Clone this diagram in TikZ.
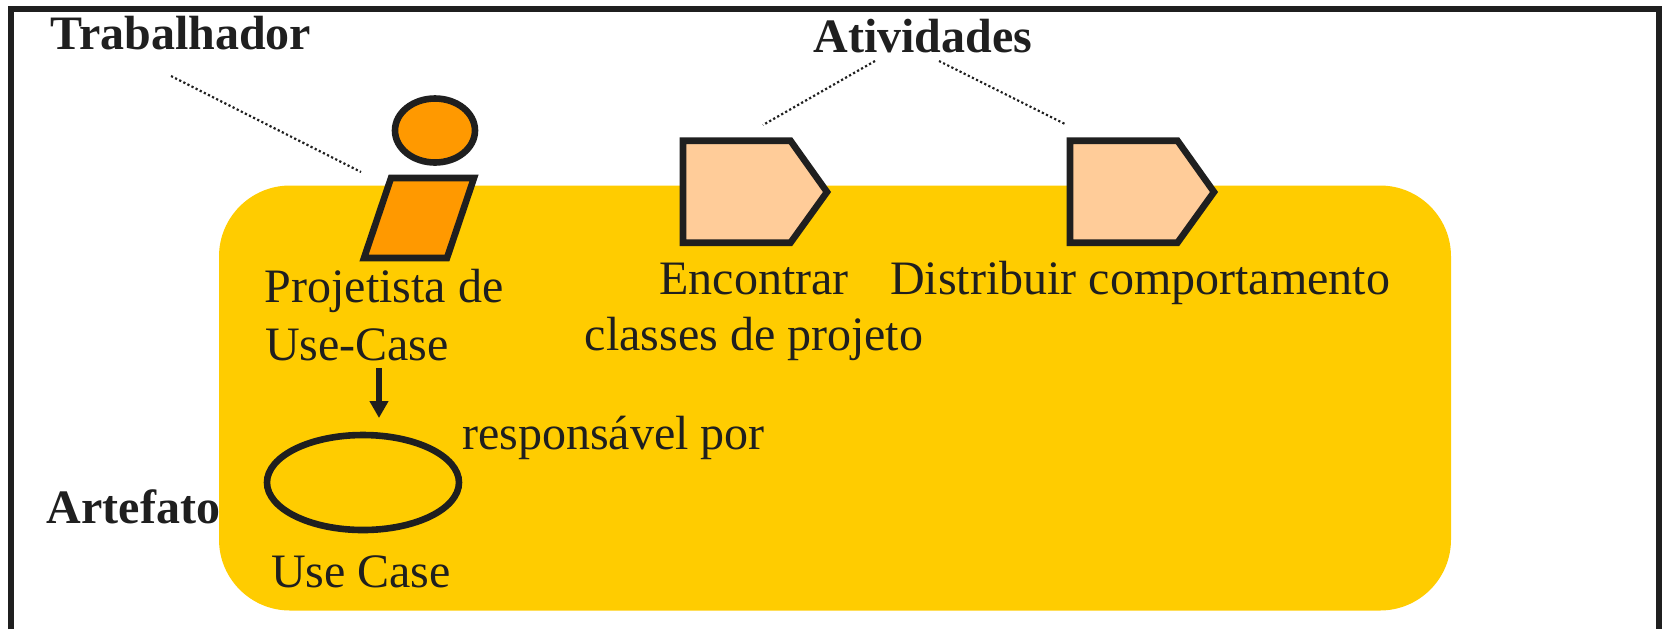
\documentclass[tikz,border=0pt]{standalone}
\usepackage{fontspec}
\setmainfont{Liberation Serif}
\usepackage{xcolor}
\usepackage{tikz}
\usetikzlibrary{shapes}
\usetikzlibrary{arrows.meta}
\definecolor{escuro}{HTML}{1F1F1F}
\definecolor{amarelo}{HTML}{FFCC00}
\definecolor{laranja}{HTML}{FF9900}
\definecolor{pessego}{HTML}{FFCC99}
\tikzset{
	rotulo/.style={anchor=base,inner sep=0pt,text=escuro,font=\fontsize{24}{29}\selectfont},
	titulo/.style={anchor=base,inner sep=0pt,text=escuro,font=\fontsize{24}{29}\selectfont\bfseries},
	contorno/.style={draw=escuro,line width=3.3pt},
	pontilhado/.style={draw=escuro,line width=1.1pt,dash pattern=on 1.1pt off 1.2pt},
	caso/.style={ellipse,contorno,inner sep=0pt,minimum width=96pt,minimum height=47.5pt}
}

\begin{document}
\begin{tikzpicture}[x=0.5pt,y=-0.5pt,>={Triangle[length=8.5pt,width=9pt]}]
		    \useasboundingbox (0,0) rectangle (1662,629);
		    % moldura e fundo
		    \draw[contorno] (11,629) -- (11,9) -- (1659,9) -- (1659,629);
		    \fill[amarelo,rounded corners=35.5pt] (219,185.5) rectangle (1451,610.5);
		    % trabalhador
		    \node [ellipse,contorno,fill=laranja,inner sep=0pt,minimum width=40pt,minimum height=32pt] (cabeca) at (435,130.5) {};
		    \draw[contorno,fill=laranja] (391,178) -- (474,178) -- (447,258) -- (364,258) -- cycle;
		    \node [titulo] (trabalhador) at (181,49) {Trabalhador};
		    \node [rotulo] (projetista) at (384,302.5) {Projetista de};
		    \node [rotulo] (usecase1) at (357,360) {Use-Case};
		    % atividades
		    \foreach \px in {683,1070}{
		      \draw[contorno,fill=pessego] (\px,140.7) -- (\px+107.5,140.7) -- (\px+144,192) -- (\px+107.5,242.7) -- (\px,242.7) -- cycle;
		    }
		    \node [titulo] (atividades) at (923,52.7) {Atividades};
		    \node [rotulo] (encontrar) at (754,294) {Encontrar};
		    \node [rotulo] (classes) at (754,350) {classes de projeto};
		    \node [rotulo] (distribuir) at (1140,294) {Distribuir comportamento};
		    % artefato
		    \node [caso] (caso1) at (363,482.5) {};
		    \node [titulo] (artefato) at (133.5,523) {Artefato};
		    \node [rotulo] (usecase2) at (361,587) {Use Case};
		    \node [rotulo] (responsavel) at (613.5,449) {responsável por};
		    % ligacoes
		    \coordinate (t1) at (171,76);
		    \coordinate (t2) at (361,172);
		    \coordinate (a1) at (875,61);
		    \coordinate (a2) at (763,125);
		    \coordinate (a3) at (939,61);
		    \coordinate (a4) at (1065,124);
		    \coordinate (s1) at (379,368);
		    \coordinate (s2) at (379,418);
		    \draw[pontilhado] (t1) -- (t2);
		    \draw[pontilhado] (a1) -- (a2);
		    \draw[pontilhado] (a3) -- (a4);
		    \draw[->,draw=escuro,color=escuro,line width=3.2pt] (s1) -- (s2);
		  \end{tikzpicture}
\end{document}
